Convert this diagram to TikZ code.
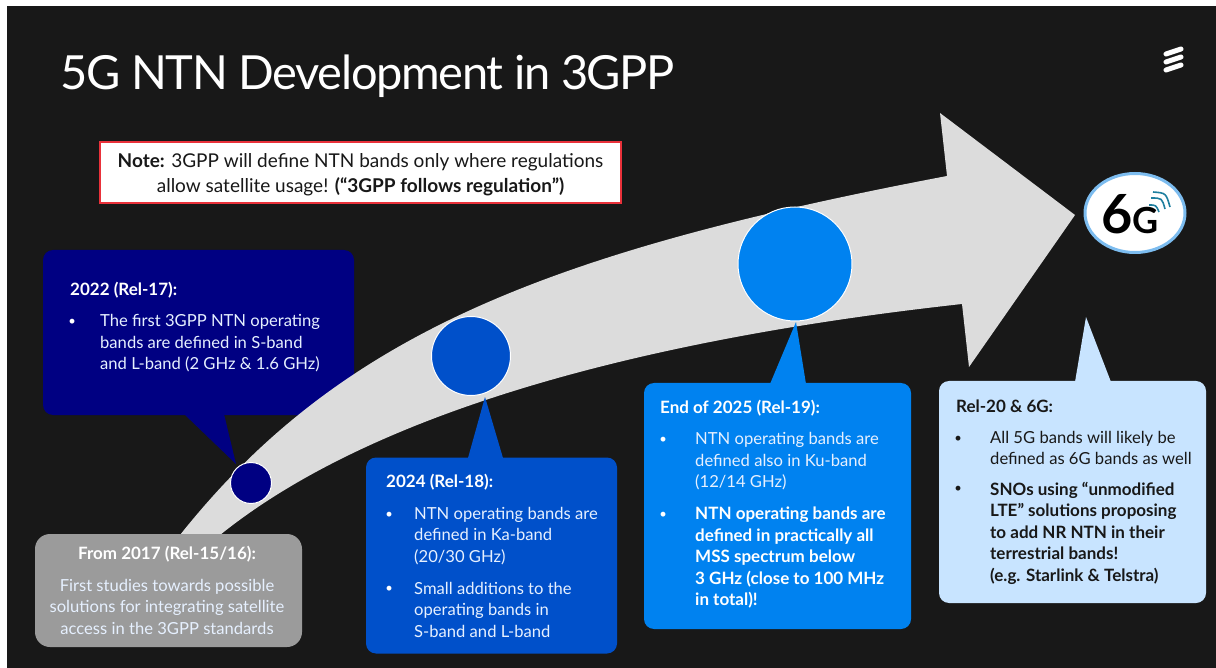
\documentclass[tikz,border=0pt]{standalone}
\usepackage{fontspec}
\setmainfont{Lato}
\usetikzlibrary{positioning,shapes.geometric}
\definecolor{slide}{HTML}{181818}
\definecolor{arrowgrey}{HTML}{DCDCDC}
\definecolor{startgrey}{HTML}{9B9B9B}
\definecolor{navy17}{HTML}{000082}
\definecolor{blue18}{HTML}{0050CA}
\definecolor{blue19}{HTML}{0082F0}
\definecolor{blue20}{HTML}{C8E4FF}
\definecolor{notered}{HTML}{E9313A}
\definecolor{ringblue}{HTML}{7CBCEF}
\definecolor{wavesteal}{HTML}{1F7F9F}
\definecolor{softwhite}{HTML}{E6F0FF}
\newcommand{\bodysize}{\fontsize{16.6}{21.5}\selectfont}
\newcommand{\boldsize}{\fontsize{17}{21.5}\selectfont\bfseries}
\begin{document}
\begin{tikzpicture}[x=1pt,y=-1pt,node distance=14pt,
    panel/.style={rounded corners=10pt,minimum width=#1,inner sep=0pt},
    head/.style={anchor=west,inner sep=0pt,font=\boldsize,text=white},
    body/.style={anchor=west,inner sep=0pt,align=left,font=\bodysize,text=softwhite},
    dot/.style={inner sep=0pt,font=\fontsize{13}{13}\selectfont,text=white,yshift=-8pt},
    stone/.style={circle,draw=white,line width=1pt,inner sep=0pt,minimum size=#1}]

  \useasboundingbox (0,0) rectangle (1216,668);
  \fill [white] (0,0) rectangle (1216,668);
  \fill [slide] (7,6) rectangle (1216,668);

  \node (title) [anchor=base west,inner sep=0pt,text=white,
                 font=\fontsize{47}{50}\selectfont\addfontfeature{LetterSpace=-2.9}]
        at (60,90) {5G NTN Development in 3GPP};

  % logo in the corner
  \draw [white,line width=5pt,line cap=round] (1166,54) -- (1181,49);
  \draw [white,line width=5pt,line cap=round] (1166,62) -- (1181,57);
  \draw [white,line width=5pt,line cap=round] (1166,70) -- (1181,65);

  \node (note) [draw=notered,fill=white,line width=2.5pt,inner sep=0pt,
                minimum width=521pt,minimum height=61pt,align=center,
                text=slide,font=\fontsize{19}{25}\selectfont] at (360.5,172.5)
        {\rule{0pt}{18.5pt}\textbf{Note:} 3GPP will define NTN bands only where regulations \\
         allow satellite usage! \textbf{(“3GPP follows regulation”)}};

  % the boxes go first, the big arrow hides a corner of rel17
  \node (rel17) [panel=311pt,fill=navy17,minimum height=165pt] at (198.5,332.5) {};
  \coordinate (tip17) at (236,464);
  \fill [navy17] (184,414) -- (tip17) -- (224,414) -- cycle;

  \fill [arrowgrey]
    (180,535) .. controls (340,334) and (547,252) .. (947,176)
    -- (940,113) -- (1075,215) -- (969,367) -- (962,304)
    .. controls (662,337) and (380,406) .. (220,535)
    -- cycle;

  \node (stone17) [stone=41pt,fill=navy17] at (251,483) {};
  \node (stone18) [stone=79pt,fill=blue18] at (471,356) {};
  \node (stone19) [stone=114pt,fill=blue19] at (795,264) {};

  \node (rel15) [panel=267pt,rounded corners=15pt,fill=startgrey,minimum height=113pt]
        at (168.5,590.5) {};

  \node (rel18) [panel=251pt,fill=blue18,minimum height=196pt] at (491.5,555.5) {};
  \coordinate (tip18) at (485,397);
  \fill [blue18] (468,458) -- (tip18) -- (503,458) -- cycle;

  \node (rel19) [panel=267pt,fill=blue19,minimum height=246pt] at (777.5,506) {};
  \coordinate (tip19) at (796,322);
  \fill [blue19] (770,384) -- (tip19) -- (806,384) -- cycle;

  \node (rel20) [panel=267pt,fill=blue20,minimum height=222pt] at (1072.5,492) {};
  \coordinate (tip20) at (1086,317);
  \fill [blue20] (1075,382) -- (tip20) -- (1111,382) -- cycle;

  % 6G badge
  \node (badge) [ellipse,draw=ringblue,fill=white,line width=3pt,inner sep=0pt,
                 minimum width=100pt,minimum height=79pt] at (1135,213) {};
  \node (sixg) [anchor=base,inner sep=0pt,text=black,font=\bfseries] at (1130,234)
        {{\fontsize{54}{54}\selectfont 6}{\fontsize{36}{36}\selectfont G}};
  \draw [wavesteal,line width=1.6pt] (1153,192) .. controls (1166,193) .. (1170,207);
  \draw [wavesteal,line width=1.6pt] (1151,198) .. controls (1162,198) .. (1165,209);
  \draw [wavesteal,line width=1.6pt] (1149,205) .. controls (1156,205) .. (1159,212);

  % texts of the boxes
  \node (head17) [head] at (70,290) {2022 (Rel-17):};
  \node (text17) [body] at (100,343.5)
        {The first 3GPP NTN operating \\ bands are defined in S-band \\
         and L-band (2 GHz \& 1.6 GHz)};
  \node (dot17) [dot,left=of text17.north west,xshift=-10pt] {•};

  \node (head15) [head,anchor=center] at (167,554) {From 2017 (Rel-15/16):};
  \node (text15) [body,anchor=center,align=center] at (167,606.5)
        {First studies towards possible \\ solutions for integrating satellite \\
         access in the 3GPP standards};

  \node (head18) [head] at (386,482) {2024 (Rel-18):};
  \node (text18a) [body] at (414,536)
        {NTN operating bands are \\ defined in Ka-band \\ (20/30 GHz)};
  \node (dot18a) [dot,left=of text18a.north west,xshift=-7pt] {•};
  \node (text18b) [body] at (414,609.5)
        {Small additions to the \\ operating bands in \\ S-band and L-band};
  \node (dot18b) [dot,left=of text18b.north west,xshift=-7pt] {•};

  \node (head19) [head] at (660,408) {End of 2025 (Rel-19):};
  \node (text19a) [body] at (695,461.5)
        {NTN operating bands are \\ defined also in Ku-band \\ (12/14 GHz)};
  \node (dot19a) [dot,left=of text19a.north west,xshift=-14pt] {•};
  \node (text19b) [body,font=\boldsize,text=white] at (695,558)
        {NTN operating bands are \\ defined in practically all \\ MSS spectrum below \\
         3 GHz (close to 100 MHz \\ in total)!};
  \node (dot19b) [dot,left=of text19b.north west,xshift=-14pt] {•};

  \node (head20) [head,text=slide] at (956,406) {Rel-20 \& 6G:};
  \node (text20a) [body,text=slide] at (990,448)
        {All 5G bands will likely be \\ defined as 6G bands as well};
  \node (dot20a) [dot,text=slide,left=of text20a.north west,xshift=-14pt] {•};
  \node (text20b) [body,font=\boldsize,text=slide] at (990,533)
        {SNOs using “unmodified \\ LTE” solutions proposing \\ to add NR NTN in their \\
         terrestrial bands! \\ (e.g. Starlink \& Telstra)};
  \node (dot20b) [dot,text=slide,left=of text20b.north west,xshift=-14pt] {•};

\end{tikzpicture}
\end{document}
